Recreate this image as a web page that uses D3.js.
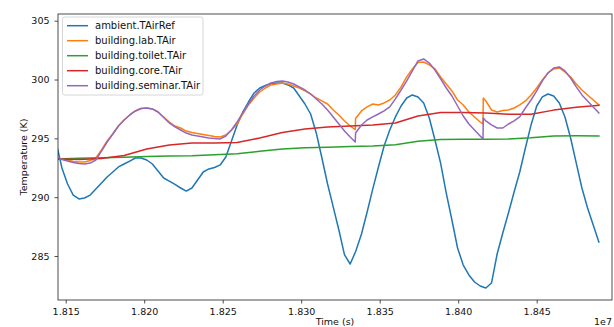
<!DOCTYPE html>
<html><head><meta charset="utf-8">
<script src="https://cdn.jsdelivr.net/npm/d3@7"></script>
<style>body{margin:0;background:#fff}svg{display:block}text{font-family:"DejaVu Sans",sans-serif;fill:#111}</style>
</head><body><svg id="c" width="614" height="327"></svg>
<script>
// ---- data ----
const startTime = 18144000; // s
const seriesNames = ["ambient.TAirRef","building.lab.TAir","building.toilet.TAir","building.core.TAir","building.seminar.TAir"];
const seriesColors = ["#1f77b4","#ff7f0e","#2ca02c","#d62728","#9467bd"];
const xTicks = [18150000,18200000,18250000,18300000,18350000,18400000,18450000];
const yTicks = [285,290,295,300,305];

const hoursHourly = d3.range(0, 97, 1);
const hoursCoarse = d3.range(0, 97, 4);
const hoursEvents = d3.range(0, 53).concat([52.9, 52.95], d3.range(54, 76), [75.5, 75.55], d3.range(76, 97));

const ambient = [294.6,292.48,291.12,290.18,289.85,289.93,290.18,290.70,291.21,291.72,
 292.14,292.57,292.82,293.07,293.33,293.33,293.16,292.82,292.23,291.63,
 291.37,291.08,290.78,290.52,290.78,291.46,292.14,292.40,292.52,292.74,
 293.41,294.78,296.14,297.24,298.09,298.86,299.28,299.49,299.66,299.71,
 299.71,299.54,299.28,298.60,297.92,297.07,295.46,293.33,291.12,289.17,
 287.21,285.09,284.32,285.42,286.87,288.74,290.70,292.57,294.35,295.71,
 296.82,297.75,298.43,298.69,298.52,298.01,296.73,294.86,292.90,290.35,
 288.06,285.68,284.23,283.39,282.79,282.45,282.28,282.70,285.17,286.95,
 288.66,290.44,292.14,294.18,296.14,297.75,298.52,298.77,298.60,298.01,
 296.82,295.03,292.90,290.78,289.08,287.63,286.19];

const lab = [293.33,293.25,293.16,293.03,292.99,292.99,293.12,293.33,294.01,294.78,
 295.37,296.05,296.56,296.99,297.33,297.54,297.58,297.50,297.24,296.82,
 296.39,296.05,295.88,295.62,295.50,295.41,295.33,295.24,295.16,295.11,
 295.28,295.71,296.22,297.07,297.84,298.43,298.94,299.28,299.54,299.62,
 299.71,299.62,299.45,299.28,299.03,298.77,298.43,298.18,297.92,297.41,
 296.99,296.48,296.05,
 295.75,296.69,
 297.33,297.67,297.92,297.84,298.01,298.26,298.69,299.37,300.22,300.90,
 301.45,301.49,301.24,300.90,300.22,299.62,299.03,298.26,297.84,297.24,
 296.82,296.39,
 296.22,298.43,
 298.18,297.41,297.24,297.37,297.41,297.58,297.84,298.18,298.69,299.28,
 299.96,300.56,300.90,300.98,300.64,300.22,299.62,299.11,298.69,298.26,297.84];

const seminar = [293.33,293.20,293.07,292.95,292.86,292.82,292.90,293.16,293.92,294.69,
 295.37,296.05,296.56,296.99,297.33,297.54,297.58,297.50,297.24,296.77,
 296.31,295.97,295.71,295.45,295.28,295.20,295.11,295.03,294.99,294.95,
 295.20,295.71,296.39,297.16,297.92,298.60,299.11,299.45,299.71,299.83,
 299.88,299.79,299.62,299.37,299.11,298.77,298.35,297.92,297.41,296.82,
 296.22,295.62,295.11,
 294.69,295.45,
 296.14,296.56,296.82,297.07,297.33,297.67,298.35,299.11,299.88,300.73,
 301.58,301.75,301.40,300.81,300.05,299.28,298.60,297.75,296.90,296.22,
 295.71,295.20,
 294.95,296.73,
 296.48,296.14,295.88,295.88,296.22,296.48,296.82,297.58,298.26,299.03,
 299.88,300.56,300.98,301.07,300.73,300.13,299.37,298.69,298.18,297.67,297.16];

const toilet = [293.25,293.3,293.35,293.4,293.45,293.5,293.52,293.6,293.7,293.9,
 294.1,294.2,294.25,294.3,294.35,294.45,294.75,294.9,294.92,294.93,
 294.95,295.05,295.2,295.22,295.2];

const core = [293.25,293.2,293.28,293.55,294.1,294.43,294.6,294.6,294.65,295.03,
 295.5,295.8,295.97,296.05,296.14,296.3,296.9,297.2,297.2,297.15,
 297.05,297.05,297.4,297.65,297.8];

// ---- chart ----
const L = 58, R = 612, T = 14, B = 300;
const svg = d3.select("#c");
const x = d3.scaleLinear().domain([18145100, 18497960]).range([L, R]);
const y = d3.scaleLinear().domain([281.26, 305.57]).range([B, T]);

svg.append("defs").append("clipPath").attr("id","clip").append("rect")
  .attr("x", L).attr("y", T).attr("width", R - L).attr("height", B - T);

function toPts(hours, vals){ return hours.map((h,i)=>({t: startTime + h*3600, v: vals[i]})); }
const series = [
  toPts(hoursHourly, ambient),
  toPts(hoursEvents, lab),
  toPts(hoursCoarse, toilet),
  toPts(hoursCoarse, core),
  toPts(hoursEvents, seminar)
];

const line = d3.line().x(d=>x(d.t)).y(d=>y(d.v));
const g = svg.append("g").attr("clip-path","url(#clip)");
series.forEach((s,i)=>{
  g.append("path").datum(s).attr("d", line)
   .attr("fill","none").attr("stroke", seriesColors[i])
   .attr("stroke-width",1.5).attr("stroke-linejoin","round").attr("stroke-linecap","square");
});

// axes
const xa = svg.append("g").attr("transform",`translate(0,${B})`)
  .call(d3.axisBottom(x).tickValues(xTicks).tickSize(3.5).tickPadding(5)
    .tickFormat(d => (d/1e7).toFixed(3)));
const ya = svg.append("g").attr("transform",`translate(${L},0)`)
  .call(d3.axisLeft(y).tickValues(yTicks).tickSize(3.5).tickPadding(5).tickFormat(d3.format("d")));
[xa, ya].forEach(a=>{
  a.select(".domain").remove();
  a.selectAll("line").attr("stroke","#222").attr("stroke-width",0.8);
  a.selectAll("text").attr("font-size", 9.5).attr("font-family","DejaVu Sans").attr("fill","#111");
});

// frame
svg.append("rect").attr("x",L).attr("y",T).attr("width",R-L).attr("height",B-T)
  .attr("fill","none").attr("stroke","#222").attr("stroke-width",0.8);

// labels
svg.append("text").attr("x",(L+R)/2).attr("y",324.5).attr("text-anchor","middle")
  .attr("font-size",9.5).text("Time (s)");
svg.append("text").attr("x",R).attr("y",324.5).attr("text-anchor","end")
  .attr("font-size",9.5).text("1e7");
svg.append("text").attr("transform",`translate(27,${(T+B)/2}) rotate(-90)`)
  .attr("text-anchor","middle").attr("font-size",9.5).text("Temperature (K)");

// legend
const lg = svg.append("g");
lg.append("rect").attr("x",62.5).attr("y",17).attr("width",140.5).attr("height",78)
  .attr("rx",2.5).attr("fill","#fff").attr("fill-opacity",0.8)
  .attr("stroke","#ccc").attr("stroke-width",0.8);
seriesNames.forEach((n,i)=>{
  const yy = 25.7 + i*15;
  lg.append("line").attr("x1",67).attr("x2",88).attr("y1",yy).attr("y2",yy)
    .attr("stroke",seriesColors[i]).attr("stroke-width",1.5);
  lg.append("text").attr("x",95).attr("y",yy).attr("dy","0.35em")
    .attr("font-size",10).text(n);
});
</script></body></html>
